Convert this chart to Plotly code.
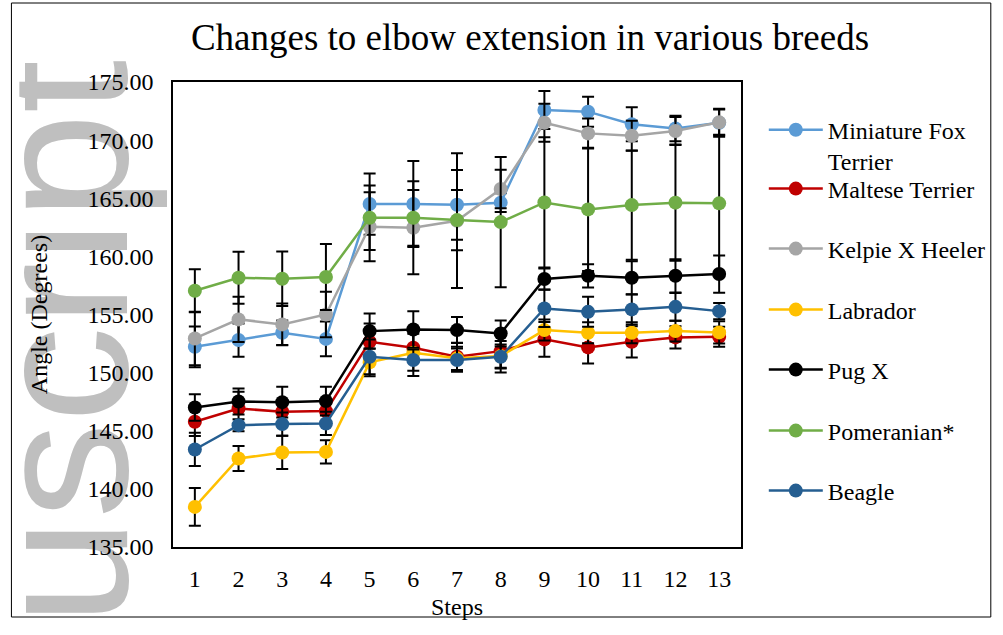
import plotly.graph_objects as go

steps = list(range(1, 14))
series_names = ["Miniature Fox<br>Terrier", "Maltese Terrier", "Kelpie X Heeler", "Labrador",
                "Pug X", "Pomeranian*", "Beagle"]
colors = ["#5B9BD5", "#C00000", "#A5A5A5", "#FFC000", "#000000", "#70AD47", "#255E91"]

mini_fox = [152.22, 152.80, 153.43, 152.90, 164.50, 164.50, 164.44, 164.62, 172.59, 172.45, 171.36, 171.00, 171.50]
maltese = [145.77, 146.92, 146.63, 146.69, 152.65, 152.14, 151.36, 151.85, 152.86, 152.17, 152.65, 153.03, 153.08]
kelpie = [152.94, 154.58, 154.15, 155.00, 162.55, 162.46, 163.07, 165.79, 171.50, 170.58, 170.38, 170.78, 171.53]
labrador = [138.45, 142.61, 143.13, 143.18, 150.88, 151.71, 151.23, 151.42, 153.66, 153.43, 153.43, 153.57, 153.46]
pug = [147.00, 147.52, 147.46, 147.55, 153.57, 153.71, 153.66, 153.37, 158.05, 158.33, 158.16, 158.33, 158.48]
pom = [157.04, 158.16, 158.08, 158.22, 163.32, 163.32, 163.12, 162.95, 164.64, 164.04, 164.41, 164.62, 164.56]
beagle = [143.39, 145.48, 145.57, 145.63, 151.36, 151.08, 151.08, 151.36, 155.52, 155.23, 155.44, 155.66, 155.29]

mini_fox_err = [1.75, 1.43, 1.05, 1.49, 2.63, 3.7, 3.0, 0.8, 1.63, 1.29, 1.46, 1.1, 1.2]
maltese_err = [1.23, 1.43, 1.0, 1.0, 1.58, 1.2, 1.2, 1.5, 1.49, 1.38, 1.34, 0.95, 0.86]
kelpie_err = [2.3, 1.95, 1.8, 1.95, 2.96, 4.0, 5.8, 1.66, 1.63, 1.29, 1.29, 1.2, 1.1]
labrador_err = [1.63, 1.08, 1.43, 1.0, 1.2, 2.0, 1.0, 1.0, 0.9, 0.9, 0.9, 0.9, 0.95]
pug_err = [1.15, 1.12, 1.32, 1.23, 1.52, 1.57, 1.12, 1.12, 0.9, 1.0, 1.43, 1.43, 1.6]
pom_err = [1.85, 2.24, 2.35, 2.84, 2.78, 2.4, 2.6, 5.6, 5.6, 5.3, 4.7, 5.0, 5.9]
beagle_err = [1.43, 0.52, 1.0, 1.0, 1.5, 0.92, 1.0, 1.35, 1.6, 1.29, 1.3, 1.2, 0.7]

y_ticks = [135, 140, 145, 150, 155, 160, 165, 170, 175]
y_tick_labels = ["135.00", "140.00", "145.00", "150.00", "155.00", "160.00", "165.00", "170.00", "175.00"]

values = [mini_fox, maltese, kelpie, labrador, pug, pom, beagle]
errors = [mini_fox_err, maltese_err, kelpie_err, labrador_err, pug_err, pom_err, beagle_err]

# layout geometry (pixels)
W, H = 1003, 635
L, R, T, B = 173, 257, 82, 88
pw, ph = W - L - R, H - T - B

def px(x):
    return (x - L) / pw

def py(y):
    return (H - B - y) / ph

FONT = "Liberation Serif, Times New Roman, serif"
FS = 24

fig = go.Figure()
legend_y_px = [145.6, 189, 249, 310, 370, 431, 491]
for i, (name, vals, errs, col) in enumerate(zip(series_names, values, errors, colors)):
    lg = "legend" if i == 0 else f"legend{i+1}"
    fig.add_trace(go.Scatter(
        x=steps, y=vals, name=name, mode="lines+markers",
        line=dict(color=col, width=2.5),
        marker=dict(color=col, size=14),
        error_y=dict(type="data", array=errs, visible=True, color="black",
                     thickness=2, width=6),
        legend=lg,
    ))

legend_layouts = {}
for i, ypx in enumerate(legend_y_px):
    key = "legend" if i == 0 else f"legend{i+1}"
    legend_layouts[key] = dict(
        x=px(769), xanchor="left", y=py(ypx), yanchor="middle",
        font=dict(family=FONT, size=FS, color="black"),
        bgcolor="rgba(0,0,0,0)", borderwidth=0, valign="top",
        itemwidth=54,
    )

wm_cx, wm_cy = 41, 396

fig.update_layout(
    width=W, height=H,
    margin=dict(l=L, r=R, t=T, b=B),
    paper_bgcolor="white", plot_bgcolor="white",
    title=dict(text="Changes to elbow extension in various breeds",
               x=530 / W, xanchor="center", y=1 - 37 / H, yanchor="middle",
               font=dict(family=FONT, size=37, color="black")),
    showlegend=True,
    **legend_layouts,
    xaxis=dict(range=[0.5, 13.5], tickmode="array", tickvals=steps,
               ticktext=[str(s) for s in steps], showgrid=False, zeroline=False,
               showline=True, linecolor="black", linewidth=1.5, mirror=True,
               ticks="", ticklabelstandoff=9,
               tickfont=dict(family=FONT, size=FS, color="black"),
               title=dict(text="Steps", font=dict(family=FONT, size=FS, color="black"),
                          standoff=8)),
    yaxis=dict(range=[135, 175], tickmode="array", tickvals=y_ticks, ticktext=y_tick_labels,
               showgrid=False, zeroline=False,
               showline=True, linecolor="black", linewidth=1.5, mirror=True,
               ticks="", ticklabelstandoff=13,
               tickfont=dict(family=FONT, size=FS, color="black"),
               title=dict(text="Angle (Degrees)", font=dict(family=FONT, size=FS, color="black"),
                          standoff=33)),
    shapes=[
        dict(type="rect", xref="paper", yref="paper",
             x0=px(wm_cx - 40), x1=px(wm_cx + 40), y0=py(wm_cy + 100), y1=py(wm_cy - 100),
             line=dict(width=0), fillcolor="rgba(0,0,0,0)", layer="below",
             label=dict(text="nuscript", textangle=-90, textposition="middle center",
                        font=dict(family="Liberation Sans, Arial, sans-serif", size=192,
                                  color="#BFBFBF"))),
        dict(type="rect", xref="paper", yref="paper", x0=px(-5), x1=px(18), y0=py(H + 5), y1=py(-5),
             line=dict(width=0), fillcolor="white", layer="below"),
        dict(type="rect", xref="paper", yref="paper", x0=px(10), x1=px(998), y0=py(617), y1=py(3),
             line=dict(color="black", width=1), fillcolor="rgba(0,0,0,0)", layer="above"),
    ],
)

fig.write_html("out.html", post_script="document.body.style.margin='0';",
               config={"displayModeBar": False})
